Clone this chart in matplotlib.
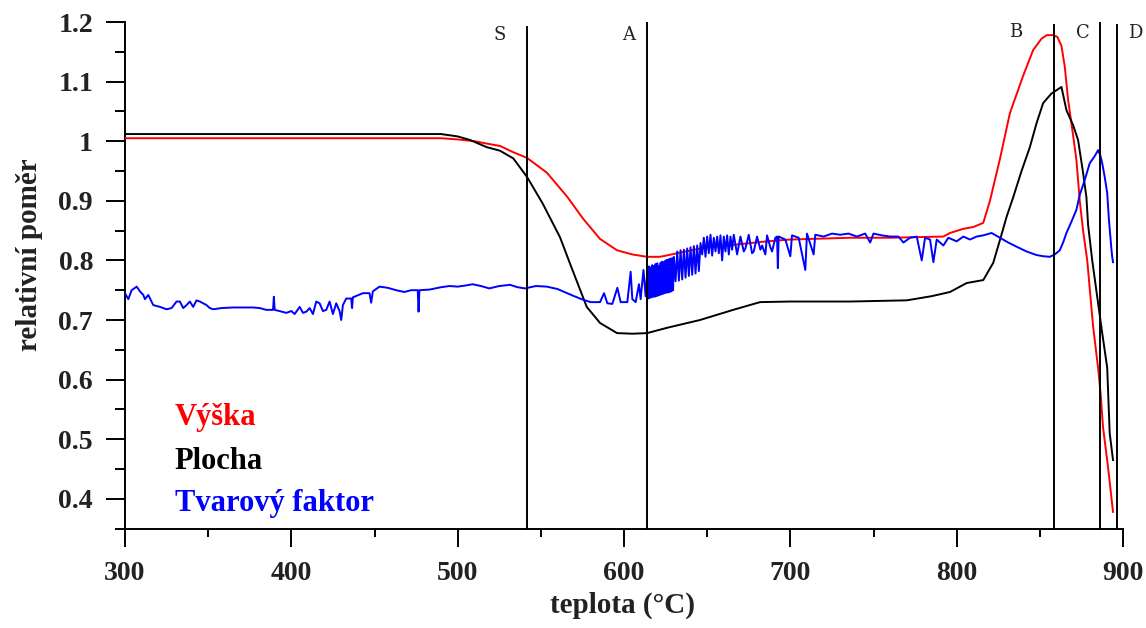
import matplotlib
matplotlib.use("Agg")
import matplotlib.pyplot as plt
from matplotlib.ticker import MultipleLocator, FixedLocator

# ---------------- data ----------------
vyska_x = [300, 400, 490, 500, 510, 517.5, 525.5, 533, 541.7, 553.7, 565.8, 575.4, 585.6, 595.8,
           605, 613.9, 621.6, 632, 645.7, 665.6, 686, 700, 736, 760, 792, 796, 804, 810, 816, 820,
           826, 832, 840, 846, 851, 854.2, 858, 860.5, 863, 865, 867, 870, 872, 874, 876, 878.5,
           882, 885, 886.5, 888, 891, 894]
vyska_y = [1.005, 1.005, 1.005, 1.003, 1.0, 0.996, 0.992, 0.982, 0.972, 0.947, 0.907, 0.87, 0.836, 0.817,
           0.81, 0.806, 0.806, 0.812, 0.82, 0.826, 0.832, 0.835, 0.838, 0.838, 0.84, 0.846, 0.853, 0.856, 0.863, 0.9,
           0.97, 1.047, 1.11, 1.153, 1.172, 1.178, 1.178, 1.175, 1.16, 1.125, 1.069, 1.01, 0.968, 0.9, 0.85, 0.80,
           0.69, 0.62, 0.578, 0.52, 0.453, 0.378]

plocha_x = [300, 490, 500, 507.5, 517.5, 525.5, 533.5, 541.7, 551, 561.5, 569, 577.6, 585.6, 595.8,
            605, 613.9, 626, 645.7, 665.6, 681.8, 700, 736, 770, 785, 796, 806, 816, 822, 826, 830,
            834, 839, 844, 848, 852, 857, 863, 866, 870, 873, 876, 878, 879, 881.5, 884.5, 887.5,
            890.5, 892, 894]
plocha_y = [1.012, 1.012, 1.008, 1.002, 0.99, 0.984, 0.971, 0.94, 0.896, 0.839, 0.784, 0.722, 0.695, 0.678,
            0.677, 0.678, 0.687, 0.70, 0.717, 0.730, 0.731, 0.731, 0.733, 0.74, 0.747, 0.762, 0.767, 0.796, 0.834, 0.873,
            0.906, 0.95, 0.99, 1.03, 1.064, 1.08, 1.091, 1.052, 1.027, 1.002, 0.947, 0.906, 0.86, 0.80, 0.739, 0.678,
            0.62, 0.51, 0.465]

tvar_x = [300, 302, 304, 307, 309, 311, 312, 314, 317, 321, 325, 328, 331, 333, 335, 337, 339, 341, 343, 345,
          347, 349, 351, 353, 358, 365, 372, 377, 381, 385, 389, 389.5, 390, 397, 400, 402, 405, 407, 409, 411,
          413, 415, 417, 419, 421, 423, 425, 427, 429, 430, 431, 433, 436, 436.5, 437, 443, 447, 448, 449, 453,
          458, 463, 468, 472, 476, 476.5, 477, 483, 490, 495, 500, 505, 509, 514, 519, 525, 531.5, 536, 540.5, 547,
          553.6, 560, 565.8, 570, 575.4, 580, 585.6, 588, 590, 593, 596, 598, 602, 604, 605, 607, 609, 610, 611.7, 613,
          614, 614.5, 615, 615.5, 616, 616.5, 617, 617.5, 618, 618.5, 619, 619.5, 620, 620.5, 621, 621.5, 622,
          622.5, 623, 623.5, 624, 624.5, 625, 625.5, 626, 626.5, 627, 627.5, 628, 628.5, 629, 629.5, 630,
          631, 632, 633, 634, 635, 636, 637, 638, 639, 640, 641, 642, 643, 644, 645, 646,
          647, 648, 649, 650, 651, 652, 653, 654, 655, 656, 657, 658, 659, 660, 661, 662, 663, 664, 665, 666,
          668, 670, 672, 673, 675, 677, 678, 680, 682, 683, 685, 686, 688, 689, 691, 692,
          692.5, 693, 697, 700, 701, 705, 709, 710, 714, 715, 720, 725, 730, 735, 740, 745, 748, 750, 755, 760,
          765, 768, 772, 776, 779, 781, 784, 786, 788, 792, 795, 800, 804, 808, 812, 816, 821, 826, 831, 836,
          842, 848, 852, 856, 859, 862, 864, 866, 869, 872, 874, 877, 880, 883, 885, 886.5, 887.5, 889, 890.5, 891.5,
          893, 893.5, 894]
tvar_y = [0.745, 0.735, 0.75, 0.756, 0.748, 0.742, 0.735, 0.742, 0.725, 0.722, 0.718, 0.72, 0.731, 0.731, 0.72, 0.725, 0.731, 0.722, 0.733, 0.731,
          0.728, 0.725, 0.72, 0.718, 0.72, 0.721, 0.721, 0.721, 0.72, 0.717, 0.717, 0.739, 0.717, 0.712, 0.715, 0.71, 0.722, 0.712, 0.714, 0.72,
          0.71, 0.731, 0.728, 0.715, 0.717, 0.731, 0.71, 0.728, 0.715, 0.70, 0.725, 0.736, 0.736, 0.72, 0.738, 0.745, 0.745, 0.729, 0.748, 0.756,
          0.754, 0.75, 0.747, 0.75, 0.75, 0.714, 0.75, 0.751, 0.755, 0.757, 0.756, 0.758, 0.76, 0.757, 0.753, 0.757, 0.759, 0.755, 0.753, 0.757,
          0.756, 0.752, 0.745, 0.74, 0.734, 0.73, 0.73, 0.745, 0.728, 0.727, 0.754, 0.73, 0.73, 0.781, 0.735, 0.73, 0.76, 0.735, 0.784, 0.74,
          0.78, 0.736, 0.79, 0.737, 0.788, 0.738, 0.792, 0.739, 0.79, 0.739, 0.794, 0.740, 0.795, 0.741, 0.79, 0.742, 0.796,
          0.743, 0.798, 0.744, 0.797, 0.745, 0.8, 0.746, 0.801, 0.746, 0.802, 0.747, 0.803, 0.748, 0.804, 0.75, 0.806,
          0.765, 0.815, 0.766, 0.817, 0.768, 0.818, 0.771, 0.82, 0.774, 0.822, 0.776, 0.824, 0.778, 0.825, 0.782, 0.829,
          0.81, 0.838, 0.806, 0.840, 0.812, 0.843, 0.808, 0.838, 0.815, 0.84, 0.812, 0.842, 0.80, 0.84, 0.815, 0.842, 0.81, 0.84, 0.818, 0.843,
          0.81, 0.84, 0.815, 0.82, 0.843, 0.812, 0.815, 0.84, 0.818, 0.825, 0.81, 0.842, 0.822, 0.815, 0.838, 0.84,
          0.787, 0.84, 0.835, 0.807, 0.842, 0.838, 0.784, 0.845, 0.81, 0.843, 0.84, 0.845, 0.843, 0.845, 0.84, 0.845, 0.83, 0.845, 0.842, 0.84,
          0.84, 0.83, 0.838, 0.84, 0.80, 0.838, 0.835, 0.797, 0.835, 0.825, 0.838, 0.832, 0.84, 0.835, 0.84, 0.842, 0.846, 0.838, 0.83, 0.823,
          0.815, 0.809, 0.807, 0.806, 0.81, 0.817, 0.83, 0.846, 0.865, 0.885, 0.91, 0.935, 0.963, 0.975, 0.985, 0.975, 0.963, 0.94, 0.913, 0.87,
          0.82, 0.806, 0.797]

marker_x = [541.7, 613.9, 858.8, 886.0, 896.5]
marker_labels = ["S", "A", "B", "C", "D"]

x_ticks = [300, 400, 500, 600, 700, 800, 900]
y_ticks = [0.4, 0.5, 0.6, 0.7, 0.8, 0.9, 1.0, 1.1, 1.2]
y_tick_labels = ["0.4", "0.5", "0.6", "0.7", "0.8", "0.9", "1", "1.1", "1.2"]

series_names = ["Výška", "Plocha", "Tvarový faktor"]
series_colors = ["#ff0000", "#000000", "#0000ff"]

# ---------------- figure ----------------
W, H = 1146, 628
fig = plt.figure(figsize=(W / 100, H / 100), dpi=100)
ax = fig.add_axes([125 / W, 1 - 528.6 / H, (1123 - 125) / W, (528.6 - 22) / H])

serif = "Liberation Serif"

ax.plot(vyska_x, vyska_y, color=series_colors[0], lw=1.4, zorder=3)
ax.plot(plocha_x, plocha_y, color=series_colors[1], lw=1.4, zorder=3)
ax.plot(tvar_x, tvar_y, color=series_colors[2], lw=1.4, zorder=4)

tops = [1.192, 1.199, 1.195, 1.199, 1.195]
for xv, top in zip(marker_x, tops):
    ax.plot([xv, xv], [0.35, top], color="black", lw=1.4, zorder=5, clip_on=False)

label_pos = [(525.3, 1.178), (602.5, 1.178), (835.2, 1.183), (876.0, 1.181), (907.3, 1.181)]
for (lx, ly), lab in zip(label_pos, marker_labels):
    ax.text(lx, ly, lab, family="DejaVu Serif", fontsize=13, ha="center", va="center",
            clip_on=False, color="#222222")

ax.set_xlim(300, 900)
ax.set_ylim(0.35, 1.2)
for s in ["top", "right"]:
    ax.spines[s].set_visible(False)
for s in ["left", "bottom"]:
    ax.spines[s].set_linewidth(1.4)

ax.xaxis.set_major_locator(FixedLocator(x_ticks))
ax.xaxis.set_minor_locator(MultipleLocator(50))
ax.yaxis.set_major_locator(FixedLocator(y_ticks))
ax.set_yticklabels(y_tick_labels)
ax.set_xticklabels([str(v) for v in x_ticks])
ax.yaxis.set_minor_locator(MultipleLocator(0.05))

ax.tick_params(axis="y", which="major", direction="out", length=14, width=1.4, pad=9)
ax.tick_params(axis="y", which="minor", direction="out", length=7, width=1.4)
ax.tick_params(axis="x", which="major", direction="out", length=13, width=1.4, pad=10)
ax.tick_params(axis="x", which="minor", direction="out", length=6, width=1.4)
for t in ax.get_xticklabels() + ax.get_yticklabels():
    t.set_fontfamily(serif)
    t.set_fontweight("bold")
    t.set_fontsize(20)
    t.set_color("#222222")

fig.text(622 / W, 1 - 605 / H, "teplota (°C)", family=serif, fontweight="bold", fontsize=21,
         ha="center", va="center", color="#222222")
fig.text(30 / W, 1 - 255 / H, "relativní poměr", family=serif, fontweight="bold", fontsize=21,
         ha="center", va="center", rotation=90, color="#222222")

leg_y = [0.536, 0.462, 0.392]
for name, col, ly in zip(series_names, series_colors, leg_y):
    ax.text(330, ly, name, family=serif, fontweight="bold", fontsize=22, color=col,
            ha="left", va="center")

fig.savefig("out.png", dpi=100)
